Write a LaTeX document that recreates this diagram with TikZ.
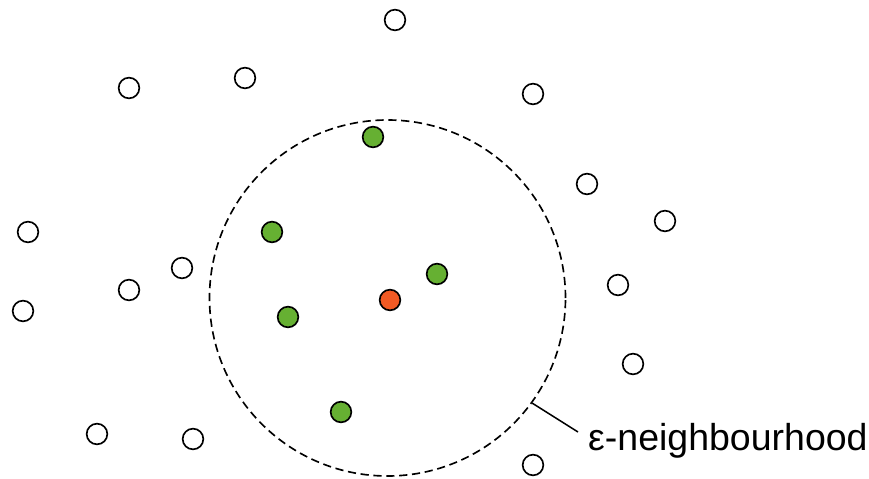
\documentclass[tikz,border=0pt]{standalone}
\usepackage{fontspec}
\setmainfont{Liberation Sans}
\definecolor{ptgreen}{HTML}{66B032}
\definecolor{ptred}{HTML}{F15A24}

\begin{document}
\begin{tikzpicture}[
    x=0.03cm, y=-0.03cm,
    pt/.style={draw, circle, line width=1.4pt, minimum size=0.62cm, inner sep=0pt, fill=white},
    core/.style={pt, fill=ptred},
    nbr/.style={pt, fill=ptgreen},
    hoodline/.style={draw, circle, line width=1.4pt, dash pattern=on 7pt off 4pt, inner sep=0pt, minimum size=356*0.03cm},
    lbl/.style={font=\fontsize{32}{37}\selectfont, inner sep=0pt, anchor=west}]
    \useasboundingbox (0,0) rectangle (869,479);

    % okoli bodu
    \node[hoodline] (hood) at (387.5,298) {};

    % ostatni body
    \foreach \x/\y/\n in {395/20/a, 129/88/b, 245/78/c, 533/94/d, 587/184/e,
        665/221/f, 28/232/g, 182/268/h, 129/290/i, 23/311/j, 618/285/k,
        633/364/l, 97/434/m, 193/439/n, 533/465/o}
        \node[pt] (w\n) at (\x,\y) {};

    % sousedi
    \node[nbr] (g1) at (373,137) {};
    \node[nbr] (g2) at (272,232) {};
    \node[nbr] (g3) at (437,274) {};
    \node[nbr] (g4) at (288,317) {};
    \node[nbr] (g5) at (341,412) {};

    % stred
    \node[core] (p) at (390,300) {};

    % popisek
    \node[lbl] (eps) at (588,441) {ε-neighbourhood};
    \coordinate (tip) at (578,432);
    \draw[line width=1.3pt] (hood.-36) -- (tip);
\end{tikzpicture}
\end{document}
